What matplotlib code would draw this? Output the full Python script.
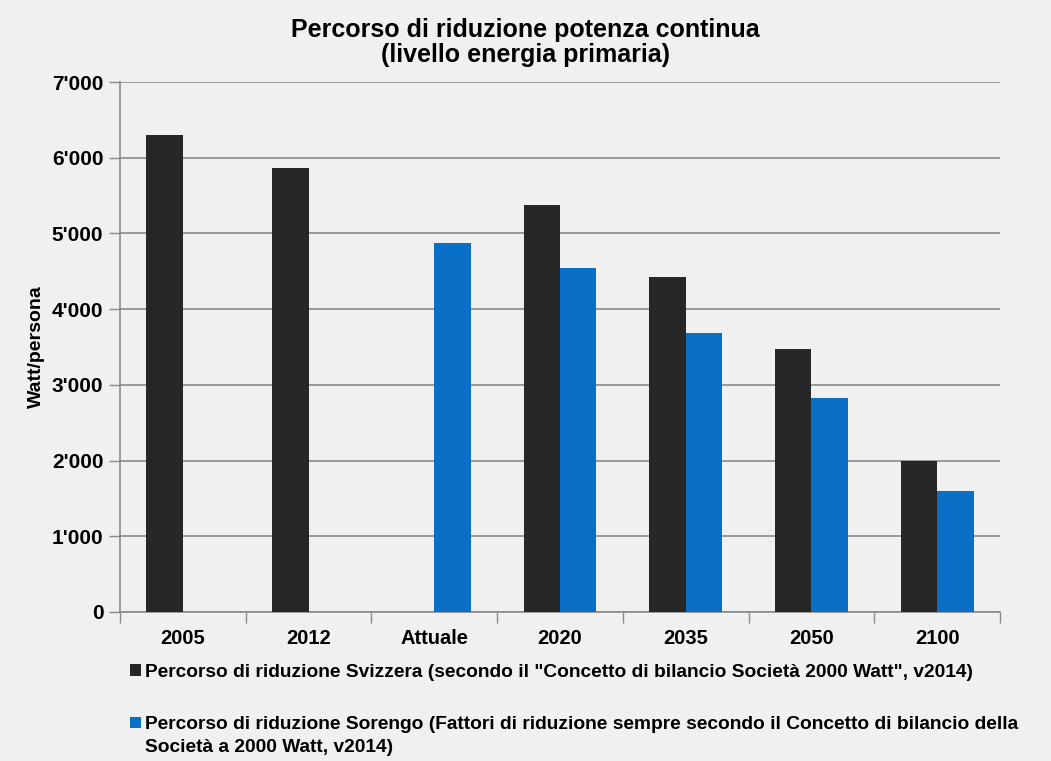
import matplotlib
matplotlib.use("Agg")
import matplotlib.pyplot as plt
import numpy as np
from matplotlib.patches import Patch
from matplotlib.ticker import FuncFormatter

# Percorso di riduzione della potenza continua (Watt per persona)
CATEGORIES = ["2005", "2012", "Attuale", "2020", "2035", "2050", "2100"]
SVIZZERA = [6300, 5870, np.nan, 5370, 4420, 3480, 2000]
SORENGO = [np.nan, np.nan, 4880, 4550, 3690, 2820, 1600]

LABEL_SVIZZERA = ('Percorso di riduzione Svizzera (secondo il "Concetto di bilancio '
                  'Società 2000 Watt", v2014)')
LABEL_SORENGO = ("Percorso di riduzione Sorengo (Fattori di riduzione sempre secondo "
                 "il Concetto di bilancio della\nSocietà a 2000 Watt, v2014)")

BLACK = "#272727"
BLUE = "#0a6fc6"
BG = "#f0f0f0"
GRID = "#8c8888"

plt.rcParams["font.family"] = ["Liberation Sans", "DejaVu Sans"]
plt.rcParams["font.weight"] = "bold"


def thousands(v, _pos):
    v = int(round(v))
    if v == 0:
        return "0"
    return f"{v // 1000}'{v % 1000:03d}"


fig = plt.figure(figsize=(10.51, 7.61), dpi=100, facecolor=BG)
ax = fig.add_axes([0.1142, 0.1958, 0.8373, 0.6964], facecolor=BG)

x = np.arange(len(CATEGORIES))
w = 0.29
ax.bar(x - w / 2, SVIZZERA, w, color=BLACK, zorder=3)
ax.bar(x + w / 2, SORENGO, w, color=BLUE, zorder=3)

ax.set_xlim(-0.5, len(CATEGORIES) - 0.5)
ax.set_ylim(0, 7000)
ax.set_yticks(np.arange(0, 7001, 1000))
ax.yaxis.set_major_formatter(FuncFormatter(thousands))
ax.yaxis.grid(True, color=GRID, linewidth=1.2, zorder=0)
ax.set_axisbelow(True)

# category labels centred, tick marks on category boundaries
ax.set_xticks(x)
ax.set_xticklabels(CATEGORIES)
ax.set_xticks(np.arange(-0.5, len(CATEGORIES)), minor=True)
ax.tick_params(axis="x", which="major", length=0, pad=12, labelsize=14.5)
ax.tick_params(axis="x", which="minor", length=8, width=1, color=GRID)
ax.tick_params(axis="y", length=8, width=1, color=GRID, pad=4, labelsize=15)

for side in ("top", "right"):
    ax.spines[side].set_visible(False)
for side in ("left", "bottom"):
    ax.spines[side].set_color(GRID)
    ax.spines[side].set_linewidth(1.2)

ax.set_ylabel("Watt/persona", fontsize=14, fontweight="bold", labelpad=5)

fig.text(0.5, 0.977, "Percorso di riduzione potenza continua\n(livello energia primaria)",
         ha="center", va="top", fontsize=18, fontweight="bold", linespacing=1.1)

handles = [Patch(facecolor=BLACK), Patch(facecolor=BLUE)]
leg = fig.legend(handles, [LABEL_SVIZZERA, LABEL_SORENGO], loc="upper left",
                 bbox_to_anchor=(0.124, 0.128), frameon=False, fontsize=13.8,
                 handlelength=0.55, handleheight=0.55, handletextpad=0.2,
                 labelspacing=1.85, borderpad=0, borderaxespad=0)
leg.get_texts()[1].set_linespacing(1.42)
# keep the blue marker level with the first line of its two-line label
sq = leg.legend_handles[1]
sq.set_y(sq.get_y() + 9.5)

fig.savefig("out.png", dpi=100, facecolor=BG)
